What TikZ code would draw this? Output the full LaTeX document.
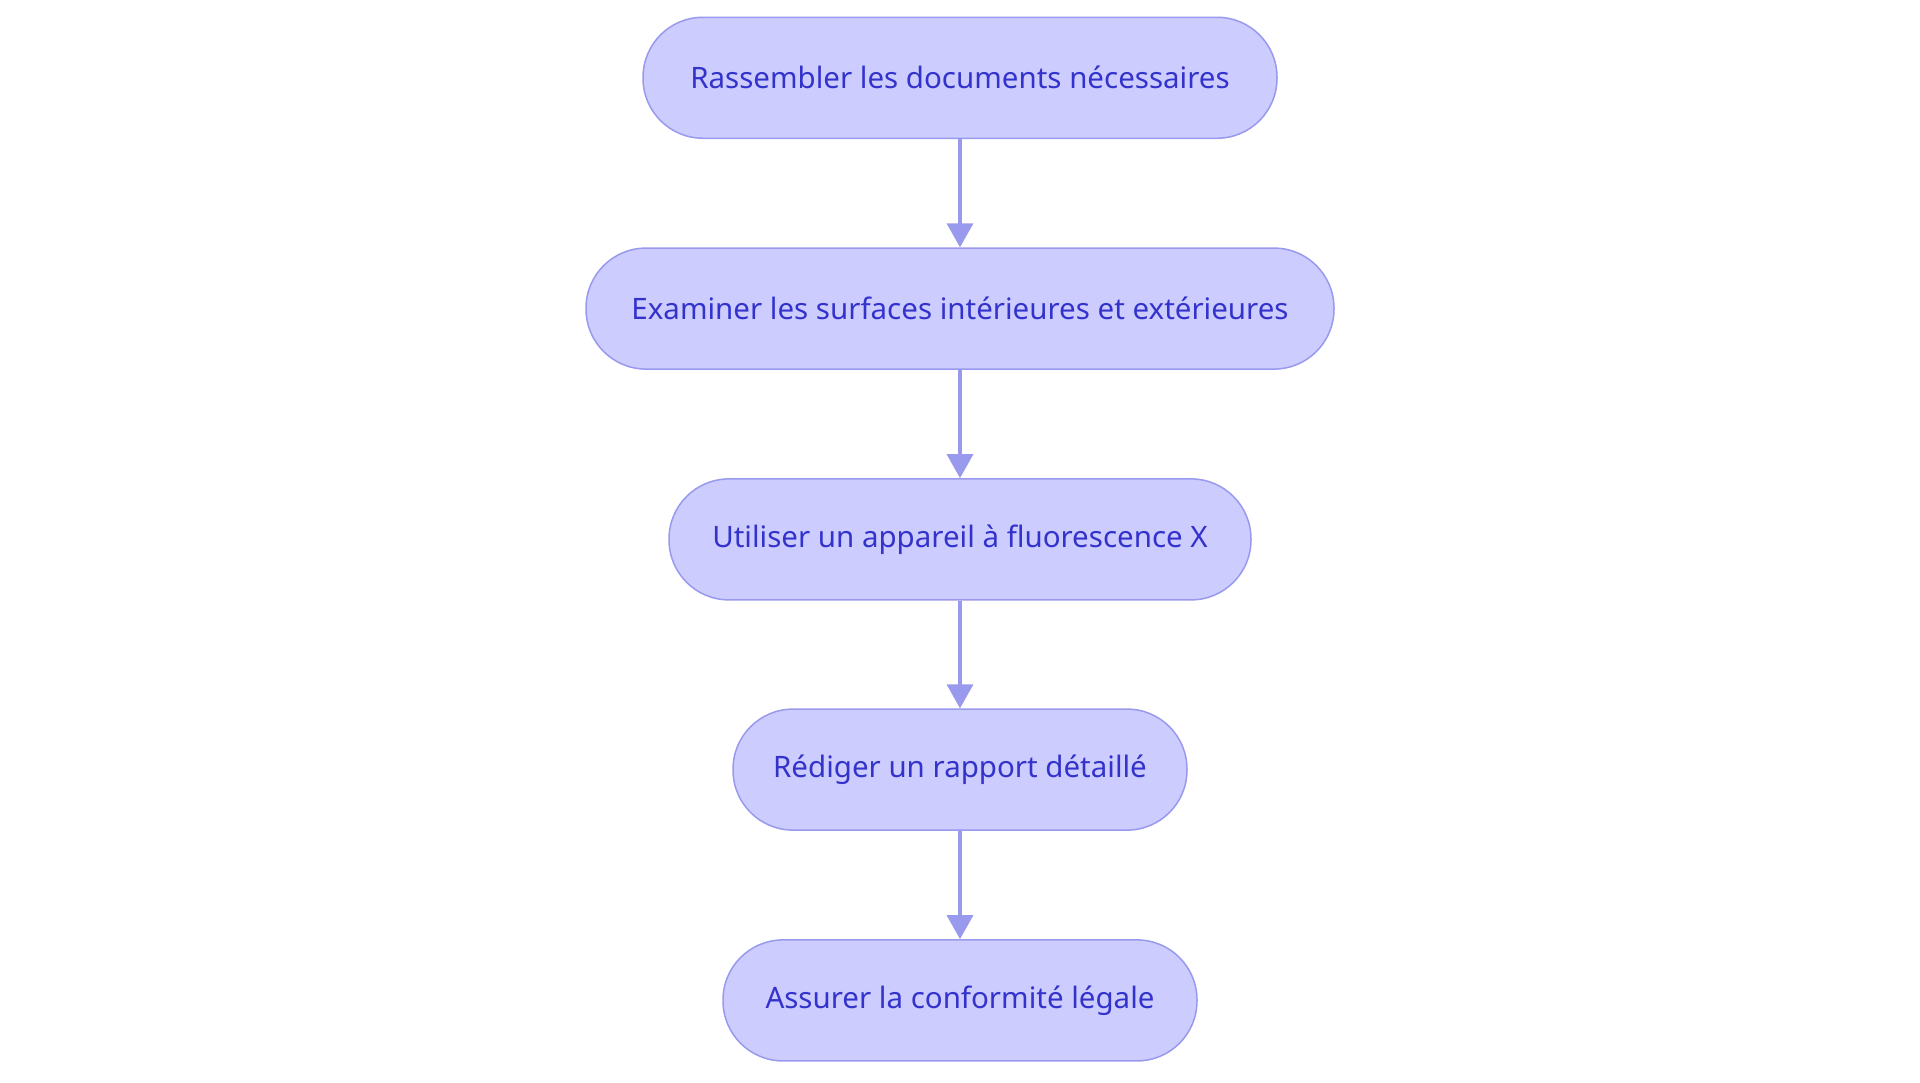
\documentclass[tikz,border=0pt]{standalone}
\usepackage{fontspec}
\setmainfont{Noto Sans}
\usetikzlibrary{arrows.meta}
\definecolor{boxfill}{HTML}{CCCCFF}
\definecolor{boxline}{HTML}{9999EE}
\definecolor{txt}{HTML}{3333CC}
\begin{document}
\begin{tikzpicture}[x=1.2245pt,y=-1.2245pt,
  box/.style={draw=boxline,fill=boxfill,line width=1.5pt,rounded corners=60pt,
    minimum height=121pt,text=txt,font=\fontsize{29.5}{34}\selectfont,inner sep=0pt},
  arr/.style={draw=boxline,line width=3.5pt,-{Triangle[width=26pt,length=24pt]}}]
\useasboundingbox (0,0) rectangle (1568,884);
\node[box,minimum width=634pt] (a) at (784,63.5) {Rassembler les documents nécessaires};
\node[box,minimum width=748pt] (b) at (784,252) {Examiner les surfaces intérieures et extérieures};
\node[box,minimum width=582pt] (c) at (784,440.5) {Utiliser un appareil à fluorescence X};
\node[box,minimum width=454pt] (d) at (784,628.5) {Rédiger un rapport détaillé};
\node[box,minimum width=474pt] (e) at (784,817) {Assurer la conformité légale};
\draw[arr] (a) -- (b);
\draw[arr] (b) -- (c);
\draw[arr] (c) -- (d);
\draw[arr] (d) -- (e);
\end{tikzpicture}
\end{document}
